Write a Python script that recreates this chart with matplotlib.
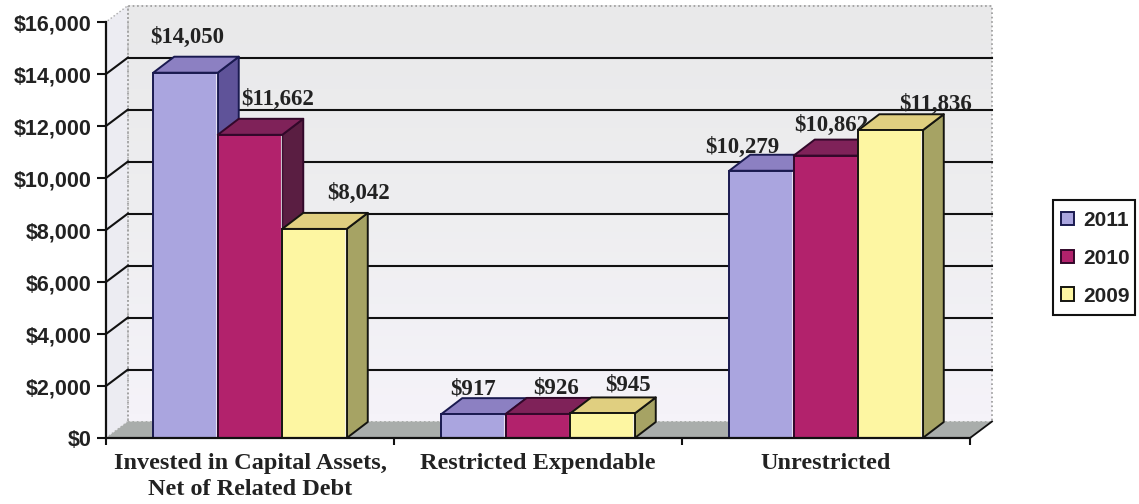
import numpy as np
import matplotlib
matplotlib.use("Agg")
import matplotlib.pyplot as plt
from matplotlib.patches import Polygon, Patch, Rectangle
from matplotlib.ticker import FixedLocator, FuncFormatter

categories = ["Invested in Capital Assets,\nNet of Related Debt", "Restricted Expendable", "Unrestricted"]
years = ["2011", "2010", "2009"]
values_2011 = [14050, 917, 10279]
values_2010 = [11662, 926, 10862]
values_2009 = [8042, 945, 11836]
series = [values_2011, values_2010, values_2009]

# style
W, H = 1139, 504
front = ["#aaa5df", "#b2226c", "#fdf6a2"]
top = ["#8c80c2", "#7f2259", "#e0cf80"]
side = ["#5f5399", "#5a1e42", "#a6a364"]
edge = ["#1a1a50", "#32082a", "#151510"]
TEXT = "#222222"
BW = 0.224
GROUP_PAD = 0.164
WALL_DX, WALL_DY = 22 / 288, 16.5 * 16000 / 416
BAR_DX, BAR_DY = 21 / 288, 16 * 16000 / 416
# pixel offsets of the value labels from the centre of each bar's top edge
label_px = [[(2, 35), (28, 35), (44, 35)],
            [(0, 25), (18, 26), (25, 28)],
            [(-19, 23), (5, 30), (45, 26)]]

fig = plt.figure(figsize=(W / 100, H / 100), dpi=100, facecolor="white")
ax = fig.add_axes([106 / W, (H - 438) / H, 864 / W, 416 / H])
ax.set_facecolor("none")

# walls and floor
ax.imshow(np.linspace(0, 1, 64)[:, None], extent=(WALL_DX, 3 + WALL_DX, WALL_DY, 16000 + WALL_DY),
          origin="upper", aspect="auto", cmap=matplotlib.colors.LinearSegmentedColormap.from_list(
              "w", ["#e9e9ea", "#eeeef0", "#f5f3f9"]), zorder=1, clip_on=False)
ax.set_xlim(0, 3)
ax.set_ylim(0, 16000)
ax.add_patch(Polygon([(0, 0), (WALL_DX, WALL_DY), (WALL_DX, 16000 + WALL_DY), (0, 16000)],
                     fc="#ececf2", ec="#a8a8a8", lw=1, ls=":", zorder=1, clip_on=False))
ax.add_patch(Polygon([(WALL_DX, WALL_DY), (3 + WALL_DX, WALL_DY), (3 + WALL_DX, 16000 + WALL_DY), (WALL_DX, 16000 + WALL_DY)],
                     fc="none", ec="#9a9a9a", lw=1.2, ls=":", zorder=1.5, clip_on=False))
ax.add_patch(Polygon([(0, 0), (3, 0), (3 + WALL_DX, WALL_DY), (WALL_DX, WALL_DY)],
                     fc="#a9adab", ec="none", zorder=2, clip_on=False))

# gridlines on the back wall and their run down the side wall
for v in range(2000, 16000, 2000):
    ax.plot([WALL_DX, 3 + WALL_DX], [v + WALL_DY] * 2, color="#111111", lw=1.5, zorder=3, clip_on=False)
    ax.plot([0, WALL_DX], [v, v + WALL_DY], color="#111111", lw=1.5, zorder=3, clip_on=False)
ax.plot([3, 3 + WALL_DX], [0, WALL_DY], color="#111111", lw=1.3, zorder=3, clip_on=False)

# bars
z = 5.0
for c in range(3):
    for s in range(3):
        v = series[s][c]
        x0 = c + GROUP_PAD + s * BW
        x1 = x0 + BW
        ec = edge[s]
        ax.add_patch(Polygon([(x1, 0), (x1 + BAR_DX, BAR_DY), (x1 + BAR_DX, v + BAR_DY), (x1, v)],
                             fc=side[s], ec=ec, lw=1.4, joinstyle="round", zorder=z, clip_on=False))
        ax.add_patch(Polygon([(x0, v), (x1, v), (x1 + BAR_DX, v + BAR_DY), (x0 + BAR_DX, v + BAR_DY)],
                             fc=top[s], ec=ec, lw=1.4, joinstyle="round", zorder=z, clip_on=False))
        ax.bar(x0, v, BW, align="edge", color=front[s], edgecolor=ec, lw=1.4, zorder=z, clip_on=False)
        ax.plot([x1 - 0.006, x1 - 0.006], [60, v - 60], color="#f4f0f6", lw=0.8, alpha=0.8,
                zorder=z, clip_on=False)
        ax.annotate(f"${v:,}", xy=((x0 + x1) / 2, v), xytext=label_px[c][s], textcoords="offset pixels",
                    ha="center", va="center", family="Liberation Serif", weight="bold", fontsize=16.5,
                    color=TEXT, zorder=z + 0.5, annotation_clip=False)
        z += 1

# axes furniture
for sp in ("top", "right"):
    ax.spines[sp].set_visible(False)
for sp in ("left", "bottom"):
    ax.spines[sp].set_linewidth(1.6)
    ax.spines[sp].set_color("#111111")
    ax.spines[sp].set_zorder(30)
ax.yaxis.set_major_locator(FixedLocator(range(0, 16001, 2000)))
ax.yaxis.set_major_formatter(FuncFormatter(lambda v, _: f"${v:,.0f}"))
ax.tick_params(axis="y", length=6.5, width=1.5, color="#111111", pad=4, labelcolor=TEXT)
for t in ax.get_yticklabels():
    t.set_family("Liberation Sans")
    t.set_weight("bold")
    t.set_fontsize(15.5)
ax.set_xticks([0, 1, 2, 3])
ax.set_xticklabels([])
ax.tick_params(axis="x", which="major", length=5, width=1.5, color="#111111")
ax.set_xticks([0.5, 1.5, 2.5], minor=True)
ax.set_xticklabels(categories, minor=True, family="Liberation Serif", weight="bold", fontsize=17.5,
                   color=TEXT, linespacing=1.32)
ax.tick_params(axis="x", which="minor", length=0, pad=11)

# legend
fig.add_artist(Rectangle((1053 / W, (H - 315) / H), 82 / W, 115 / H, transform=fig.transFigure,
                         fc="white", ec="#111111", lw=1.5))
handles = [Patch(fc=front[i], ec=edge[i], lw=1.4, label=years[i]) for i in range(3)]
leg = fig.legend(handles=handles, loc="upper left", bbox_to_anchor=(1061 / W, (H - 211) / H), bbox_transform=fig.transFigure,
                 frameon=False, borderaxespad=0, borderpad=0,
                 prop={"family": "Liberation Sans", "weight": "bold", "size": 15}, labelcolor=TEXT,
                 handlelength=0.625, handleheight=0.625, handletextpad=0.43, labelspacing=0.9)

fig.savefig("out.png", dpi=100)
